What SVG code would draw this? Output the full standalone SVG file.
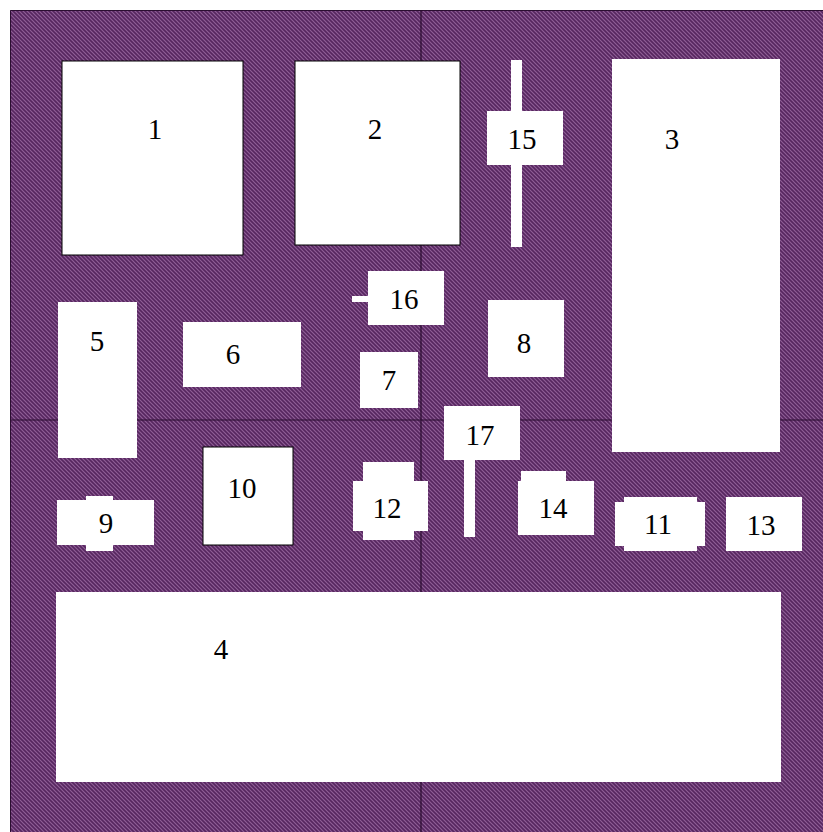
<svg xmlns="http://www.w3.org/2000/svg" width="823" height="832" viewBox="0 0 823 832">
<style>
.b{fill:#fff}
.k{fill:#fff;stroke:#000;stroke-width:1}
.t{font-family:"Liberation Serif","Times New Roman",serif;font-size:29px;fill:#000;text-anchor:middle;dominant-baseline:central}
.ax{stroke:#2a0d30;stroke-width:1.2}
</style>
<defs>
<pattern id="h" patternUnits="userSpaceOnUse" width="4" height="4">
<rect width="4" height="4" fill="#56265f"/>
<path d="M-1,-1 L5,5 M-1,3 L1,5 M3,-1 L5,1" stroke="#8f5e96" stroke-width="1.2"/>
</pattern>
</defs>
<rect width="823" height="832" fill="#fff"/>
<rect x="10" y="10" width="813" height="822" fill="url(#h)"/>
<path d="M10.5,832 V10.5 H823" fill="none" stroke="#2a0d30" stroke-width="1"/>
<g id="axes">
<line class="ax" x1="421" y1="10" x2="421" y2="832"/>
<line class="ax" x1="10" y1="420" x2="823" y2="420"/>
</g>
<g id="n1"><rect class="k" x="62" y="61" width="181" height="194"/><text class="t" x="155" y="129">1</text></g>
<g id="n2"><rect class="k" x="295" y="61" width="165" height="184"/><text class="t" x="375" y="129">2</text></g>
<g id="n15"><rect class="b" x="511" y="60" width="11" height="187"/><rect class="b" x="487" y="111" width="76" height="54"/><text class="t" x="522" y="139">15</text></g>
<g id="n3"><rect class="b" x="612" y="59" width="168" height="393"/><text class="t" x="672" y="139">3</text></g>
<g id="n16"><rect class="b" x="352" y="296" width="17" height="6"/><rect class="b" x="368" y="271" width="76" height="54"/><text class="t" x="404" y="299">16</text></g>
<g id="n5"><rect class="b" x="58" y="302" width="79" height="156"/><text class="t" x="97" y="341">5</text></g>
<g id="n6"><rect class="b" x="183" y="322" width="118" height="65"/><text class="t" x="233" y="354">6</text></g>
<g id="n7"><rect class="b" x="360" y="352" width="58" height="56"/><text class="t" x="389" y="380">7</text></g>
<g id="n8"><rect class="b" x="488" y="300" width="76" height="77"/><text class="t" x="524" y="343">8</text></g>
<g id="n17"><rect class="b" x="444" y="406" width="76" height="54"/><rect class="b" x="464" y="459" width="11" height="78"/><text class="t" x="480" y="435">17</text></g>
<g id="n10"><rect class="k" x="203" y="447" width="90" height="98"/><text class="t" x="242" y="488">10</text></g>
<g id="n9"><rect class="b" x="57" y="500" width="97" height="45"/><rect class="b" x="86" y="496" width="27" height="55"/><text class="t" x="106" y="523">9</text></g>
<g id="n12"><rect class="b" x="353" y="481" width="75" height="50"/><rect class="b" x="363" y="462" width="51" height="78"/><text class="t" x="387" y="508">12</text></g>
<g id="n14"><rect class="b" x="518" y="481" width="76" height="54"/><rect class="b" x="521" y="471" width="45" height="11"/><text class="t" x="553" y="508">14</text></g>
<g id="n11"><rect class="b" x="615" y="502" width="90" height="44"/><rect class="b" x="624" y="497" width="73" height="54"/><text class="t" x="658" y="524">11</text></g>
<g id="n13"><rect class="b" x="726" y="497" width="76" height="54"/><text class="t" x="761" y="525">13</text></g>
<g id="n4"><rect class="b" x="56" y="592" width="725" height="190"/><text class="t" x="221" y="649">4</text></g>
</svg>
